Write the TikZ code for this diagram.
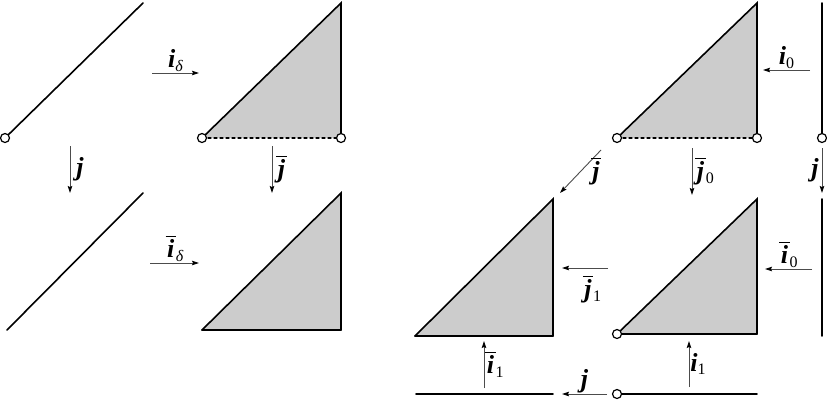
\documentclass[tikz,border=0pt]{standalone}
\usepackage{fontspec}
\setmainfont{Liberation Serif}
\usetikzlibrary{arrows.meta}

\definecolor{wedgegray}{gray}{0.8}
\definecolor{mapgray}{gray}{0.3}
\newcommand{\bi}[1]{\textbf{\textit{#1}}}
\newcommand{\bb}[1]{$\overline{\hbox{\kern1.5pt\rule{0pt}{0.78em}\bi{#1}\kern1.5pt}}$}
\newcommand{\sub}[1]{\raisebox{-0.3ex}{\fontsize{16}{16}\selectfont #1}}

\begin{document}
\begin{tikzpicture}[x=1pt,y=-1pt,
  edge/.style={line width=1.6pt,line cap=round},
  map/.style={mapgray,line width=0.9pt,-{Stealth[length=7pt,width=4.5pt,inset=1pt,black]}},
  lbl/.style={font=\fontsize{26}{28}\selectfont,text=black,inner sep=1pt},
  port/.style={draw=black,fill=white,line width=1.2pt}]
  \useasboundingbox (0,0) rectangle (827,400);

  % filled triangle: corner x, y, width, height
  \newcommand{\wedgetri}[4]{%
    \fill[wedgegray] (#1,#2) -- +(#3,0) -- +(#3,-#4) -- cycle;
    \draw[edge] (#1,#2) -- +(#3,-#4) -- +(#3,0);
  }
  % map arrow: name, start, end, label side, label
  \newcommand{\mapto}[5]{%
    \coordinate (#1s) at (#2);
    \coordinate (#1e) at (#3);
    \draw[map] (#1s) -- node[lbl,#4] (#1) {#5} (#1e);
  }

  \begin{scope}
    % left square
    \draw[edge] (5,138) -- (143,3);
    \wedgetri{202}{138}{139}{135}
    \draw[edge,line width=1.2pt,dashed] (202,138) -- (341,138);
    \draw[edge] (7,330) -- (143,193);
    \wedgetri{202}{330}{139}{137}
    \draw[edge] (202,330) -- (341,330);

    % right part
    \wedgetri{617}{138}{140}{135}
    \draw[edge,line width=1.2pt,dashed] (617,138) -- (757,138);
    \draw[edge] (822,3) -- (822,138);
    \wedgetri{415}{336}{138}{137}
    \draw[edge] (415,336) -- (553,336);
    \wedgetri{617}{334}{140}{135}
    \draw[edge] (617,334) -- (757,334);
    \draw[edge] (822,199) -- (822,336);
    \draw[edge] (416,394) -- (553,394);
    \draw[edge] (617,394) -- (757,394);

    \foreach \p in {(5,138),(202,138),(341,138),(617,138),(757,138),
                    (822,138),(617,334),(617,394)}{
      \draw[port] \p circle (4.5pt);
    }
  \end{scope}

  % the maps
  \mapto{id}{152,73}{199,73}{above}{\bi{i}\sub{\textit{δ}}}
  \mapto{jl}{70,146}{70,193}{right=5pt}{\bi{j}}
  \mapto{jbl}{272,146}{272,193}{right=3pt}{\bb{j}}
  \mapto{ibd}{150,263}{199,263}{above}{\bb{i}\sub{\textit{δ}}}

  \mapto{iz}{810,70}{763,70}{above}{\bi{i}\sub{0}}
  \mapto{jbz}{692,148}{692,195}{right=2pt}{\bb{j}\sub{0}}
  \mapto{jr}{822,148}{822,193}{left=2pt}{\bi{j}}
  \mapto{jbd}{601,150}{560,193}{right=9pt}{\bb{j}}
  \mapto{jbo}{608,268}{562,268}{below=6pt,xshift=7pt}{\bb{j}\sub{1}}
  \mapto{ibz}{812,269}{765,269}{above}{\bb{i}\sub{0}}
  \mapto{ibo}{484,388}{484,341}{right}{\bb{i}\sub{1}}
  \mapto{io}{689,387}{689,341}{right}{\bi{i}\sub{1}}
  \mapto{jb}{607,394}{562,394}{above}{\bi{j}}
\end{tikzpicture}
\end{document}
